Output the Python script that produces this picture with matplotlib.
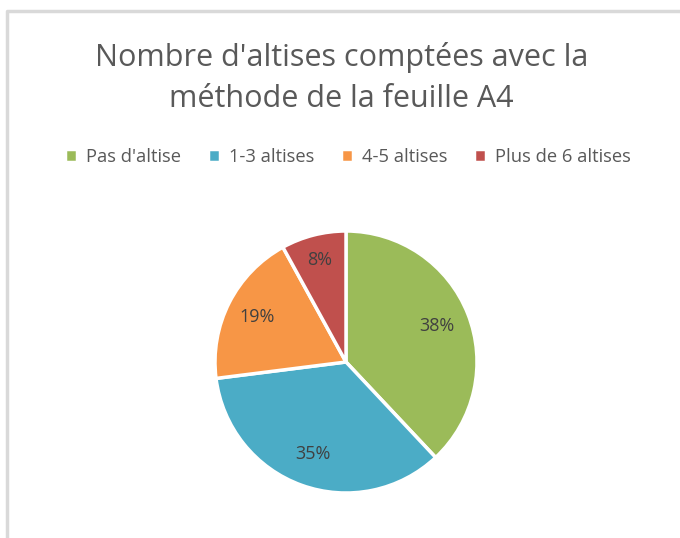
import matplotlib
matplotlib.use("Agg")
import matplotlib.pyplot as plt
import numpy as np

plt.rcParams['font.family'] = ['Open Sans', 'DejaVu Sans']

labels = ["Pas d'altise", "1-3 altises", "4-5 altises", "Plus de 6 altises"]
values = [38, 35, 19, 8]
colors = ['#9BBB59', '#4BACC6', '#F79646', '#C0504D']
title = "Nombre d'altises comptées avec la\nméthode de la feuille A4"

W, H = 680, 538
fig = plt.figure(figsize=(W / 100, H / 100), dpi=100)
fig.patch.set_facecolor('white')

# light frame (chart area border), cropped at right and bottom
frame = plt.Line2D([7 / W, 7 / W, 1], [0, 1 - 11 / H, 1 - 11 / H],
                   transform=fig.transFigure, color='#d9d9d9', lw=2.5)
fig.add_artist(frame)

cx, cy, r = 346, H - 362, 131
ax = fig.add_axes([(cx - r) / W, (cy - r) / H, 2 * r / W, 2 * r / H])
wedges, texts = ax.pie(values, colors=colors, startangle=90, counterclock=False,
                       radius=1, wedgeprops=dict(edgecolor='white', linewidth=2.5))
ax.set_xlim(-1, 1)
ax.set_ylim(-1, 1)
ax.axis('off')

# percentage labels, distance from centre per slice
dists = [0.75, 0.75, 0.76, 0.80]
total = sum(values)
for w, v, d in zip(wedges, values, dists):
    ang = np.deg2rad((w.theta1 + w.theta2) / 2)
    ax.text(d * np.cos(ang), d * np.sin(ang), f"{v / total:.0%}",
            ha='center', va='center', fontsize=13, color='#404040')

fig.text(0.502, 1 - 78 / H, title, ha='center', va='center', fontsize=22,
         color='#595959', linespacing=1.5)

leg = fig.legend(wedges, labels, loc='center', bbox_to_anchor=(0.512, 1 - 157 / H),
                 ncol=4, frameon=False, fontsize=13.2, handlelength=0.65,
                 handleheight=0.65, handletextpad=0.5, columnspacing=1.45)
for t in leg.get_texts():
    t.set_color('#595959')

fig.savefig('out.png', dpi=100)
